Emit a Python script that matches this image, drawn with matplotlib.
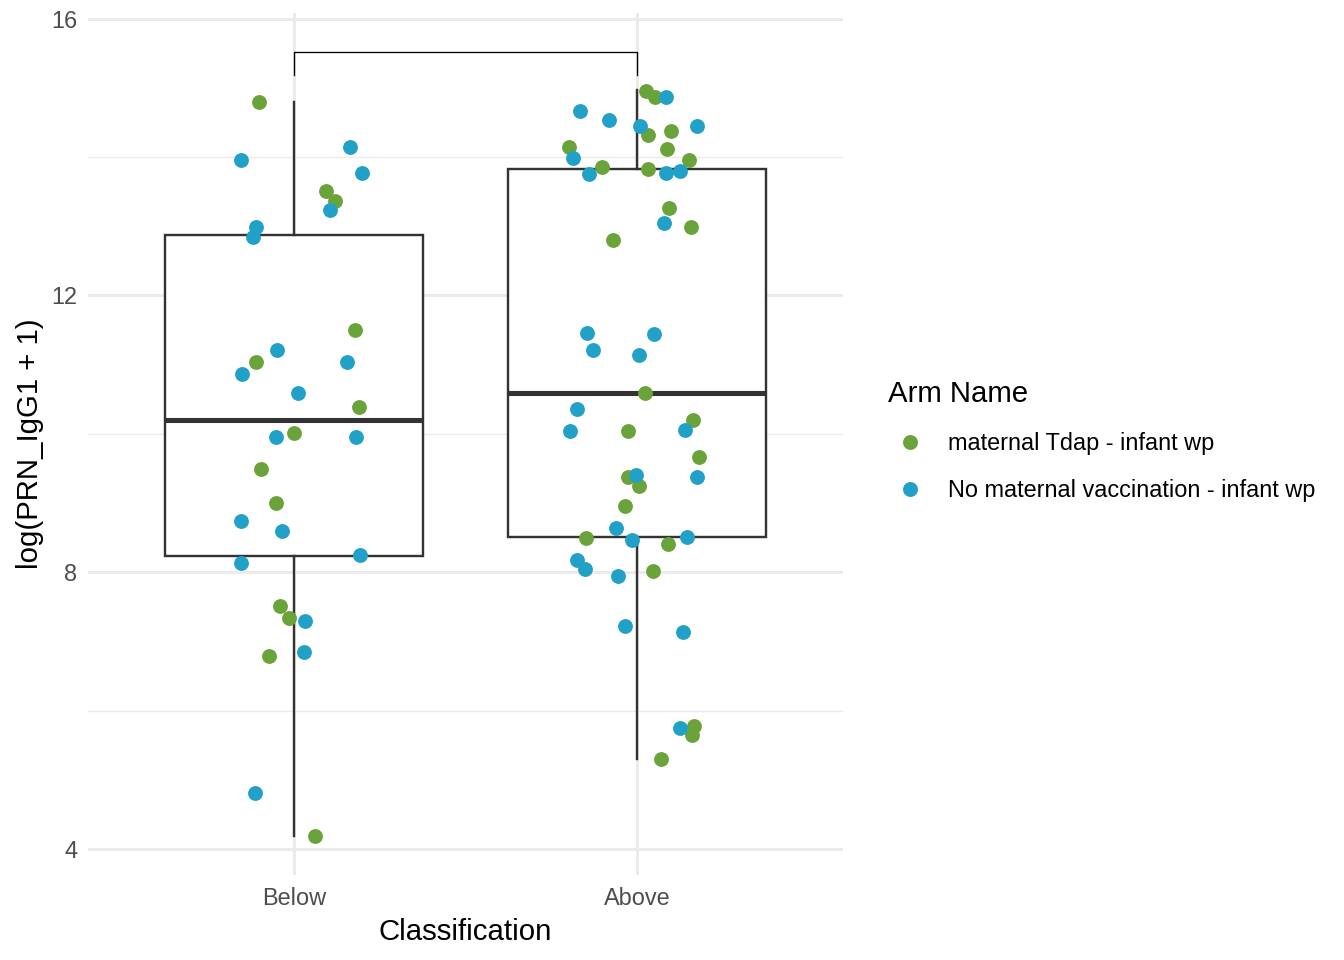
import matplotlib.pyplot as plt
from matplotlib.lines import Line2D

plt.rcParams['font.family'] = ['Liberation Sans', 'DejaVu Sans']

# ----------------------------
# data
# ----------------------------
groups = ["Below", "Above"]
arms = ["maternal Tdap - infant wp", "No maternal vaccination - infant wp"]
arm_colors = ["#6BA33B", "#21A0C8"]

# box statistics per group
box_whislo = [4.19, 5.30]
box_q1 = [8.24, 8.51]
box_med = [10.20, 10.59]
box_q3 = [12.88, 13.83]
box_whishi = [14.79, 14.97]

# Below / maternal Tdap
below_tdap_y = [14.79, 13.51, 13.37, 11.50, 11.04, 10.39, 10.01, 9.49, 9.00, 7.51, 7.34, 6.79, 4.19]
below_tdap_dx = [-0.102, 0.093, 0.120, 0.178, -0.111, 0.190, 0.0, -0.096, -0.052, -0.041, -0.015, -0.073, 0.061]
# Below / no maternal vaccination
below_none_y = [13.95, 14.15, 13.77, 13.24, 12.99, 12.85, 11.21, 10.87, 11.04, 10.59, 9.96, 9.96,
                8.74, 8.60, 8.14, 8.25, 7.30, 6.85, 4.82]
below_none_dx = [-0.155, 0.163, 0.198, 0.105, -0.111, -0.120, -0.050, -0.152, 0.155, 0.012, -0.052, 0.181,
                 -0.155, -0.035, -0.155, 0.192, 0.032, 0.029, -0.114]
# Above / maternal Tdap
above_tdap_y = [14.96, 14.87, 14.32, 14.37, 14.12, 14.15, 13.85, 13.83, 13.95, 13.27, 12.99, 12.80,
                10.59, 10.20, 10.04, 9.67, 9.38, 9.25, 8.96, 8.50, 8.41, 8.02, 5.78, 5.65, 5.30]
above_tdap_dx = [0.026, 0.052, 0.032, 0.099, 0.087, -0.198, -0.102, 0.032, 0.152, 0.093, 0.157, -0.070,
                 0.023, 0.163, -0.026, 0.181, -0.026, 0.006, -0.035, -0.149, 0.090, 0.047, 0.166, 0.160, 0.070]
# Above / no maternal vaccination
above_none_y = [14.87, 14.66, 14.54, 14.45, 14.45, 13.99, 13.76, 13.77, 13.80, 13.04, 11.46, 11.45,
                11.21, 11.14, 10.36, 10.04, 10.06, 9.41, 9.38, 8.64, 8.47, 8.51, 8.18, 8.05, 7.95,
                7.22, 7.14, 5.76]
above_none_dx = [0.085, -0.166, -0.082, 0.009, 0.175, -0.187, -0.140, 0.085, 0.125, 0.079, -0.146, 0.050,
                 -0.128, 0.006, -0.175, -0.195, 0.140, -0.003, 0.175, -0.061, -0.015, 0.146, -0.175, -0.152,
                 -0.055, -0.035, 0.134, 0.125]

bracket_y = 15.51
bracket_tip = 15.19

# ----------------------------
# plot
# ----------------------------
fig = plt.figure(figsize=(7, 5), dpi=192)
ax = fig.add_axes([88 / 1344, 85 / 960, (843 - 88) / 1344, (947 - 85) / 960])

pos = [1, 2]
stats = []
for i, g in enumerate(groups):
    stats.append(dict(label=g, whislo=box_whislo[i], q1=box_q1[i], med=box_med[i],
                      q3=box_q3[i], whishi=box_whishi[i], fliers=[]))

ax.bxp(stats, positions=pos, widths=0.75, showcaps=False, showfliers=False,
       patch_artist=True,
       boxprops=dict(facecolor="white", edgecolor="#333333", linewidth=0.9),
       medianprops=dict(color="#333333", linewidth=1.9, solid_capstyle="butt"),
       whiskerprops=dict(color="#333333", linewidth=0.9), zorder=2)

series = [
    (pos[0], below_tdap_dx, below_tdap_y, arm_colors[0]),
    (pos[0], below_none_dx, below_none_y, arm_colors[1]),
    (pos[1], above_tdap_dx, above_tdap_y, arm_colors[0]),
    (pos[1], above_none_dx, above_none_y, arm_colors[1]),
]
for p, dx, ys, c in series:
    ax.scatter([p + d for d in dx], ys, s=31, color=c, linewidths=0, zorder=3)

# significance bracket
ax.plot([pos[0], pos[0], pos[1], pos[1]], [bracket_tip, bracket_y, bracket_y, bracket_tip],
        color="black", linewidth=0.5, zorder=4)

ax.set_xlim(0.4, 2.6)
ax.set_ylim(3.63, 16.08)
ax.set_xticks(pos)
ax.set_xticklabels(groups)
ax.set_yticks([4, 8, 12, 16])
ax.set_yticks([6, 10, 14], minor=True)
ax.grid(which="major", color="#EBEBEB", linewidth=1.1, zorder=0)
ax.grid(which="minor", axis="y", color="#EBEBEB", linewidth=0.55, zorder=0)
ax.set_axisbelow(True)
for s in ax.spines.values():
    s.set_visible(False)
ax.tick_params(which="both", length=0, labelsize=8.8, labelcolor="#4D4D4D", pad=4)
ax.tick_params(axis="x", pad=4.6)

ax.set_xlabel("Classification", fontsize=11, labelpad=3)
ax.set_ylabel("log(PRN_IgG1 + 1)", fontsize=11, labelpad=2.6)

handles = [Line2D([0], [0], marker="o", linestyle="", markersize=5.6,
                  markerfacecolor=c, markeredgewidth=0) for c in arm_colors]
leg = fig.legend(handles, arms, loc="center left", bbox_to_anchor=(888 / 1344, 1 - 441 / 960),
                 frameon=False, fontsize=8.8, title="Arm Name", title_fontsize=11,
                 alignment="left", handlelength=1.9, handletextpad=0.65,
                 labelspacing=1.0, borderpad=0, borderaxespad=0)
leg._legend_box.sep = 9

fig.savefig("out.png", dpi=192)
